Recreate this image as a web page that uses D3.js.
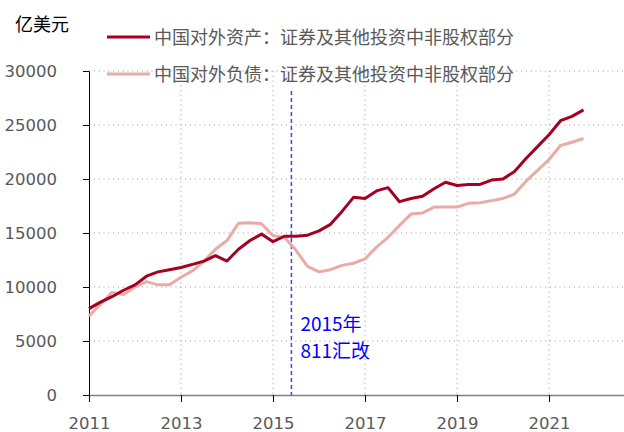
<!DOCTYPE html>
<html>
<head>
<meta charset="utf-8">
<script src="https://cdn.jsdelivr.net/npm/d3@7"></script>
<style>
  body { margin: 0; background: #fff; }
  text { font-family: "DejaVu Sans", "Noto Sans CJK SC", sans-serif; }
  .cjk { font-family: "Noto Sans CJK SC", "DejaVu Sans", sans-serif; }
</style>
</head>
<body>
<svg id="chart" width="624" height="432"></svg>
<script>
// quarterly, 2011Q1 .. 2021Q4 (亿美元)
var quarters = d3.range(0, 44).map(function(i) { return 2011 + i / 4; });
var assets = [
  8000, 8600, 9100, 9700, 10200, 11000, 11400, 11600,
  11800, 12100, 12400, 12900, 12400, 13500, 14300, 14900,
  14200, 14700, 14700, 14800, 15200, 15800, 17000, 18300,
  18200, 18900, 19200, 17900, 18200, 18400, 19100, 19700,
  19400, 19500, 19500, 19900, 20000, 20700, 21900, 23000,
  24100, 25400, 25800, 26400];
var liabilities = [
  7300, 8400, 9500, 9300, 10000, 10500, 10200, 10200,
  10900, 11500, 12400, 13500, 14300, 15900, 15950, 15850,
  14750, 14600, 13400, 11900, 11400, 11600, 12000, 12200,
  12600, 13700, 14600, 15700, 16750, 16850, 17400, 17400,
  17400, 17750, 17800, 18000, 18200, 18600, 19800, 20800,
  21800, 23100, 23400, 23750];
var seriesNames = ["中国对外资产：证券及其他投资中非股权部分", "中国对外负债：证券及其他投资中非股权部分"];
var seriesColors = ["#a50021", "#e8aba7"];
var yTicks = [0, 5000, 10000, 15000, 20000, 25000, 30000];
var xTicks = [2011, 2013, 2015, 2017, 2019, 2021];
var reformDate = 2015.4;
var reformLabel = ["2015年", "811汇改"];

var margin = {top: 71, right: 0, bottom: 37, left: 89};
var width = 624 - margin.left - margin.right;
var height = 432 - margin.top - margin.bottom;

var svg = d3.select("#chart");
var g = svg.append("g")
    .attr("transform", `translate(${margin.left}, ${margin.top})`);

var x = d3.scaleLinear().domain([2011, 2022.63]).range([0, width]);
var y = d3.scaleLinear().domain([0, 30000]).range([height, 0]);

// grid
g.append("g").selectAll("line")
    .data(yTicks.slice(1))
    .enter().append("line")
      .attr("x1", 0).attr("x2", width)
      .attr("y1", function(d) { return y(d); })
      .attr("y2", function(d) { return y(d); })
      .attr("stroke", "#a6a6a6")
      .attr("stroke-dasharray", "1.2,3.6");
g.append("g").selectAll("line")
    .data(xTicks.slice(1))
    .enter().append("line")
      .attr("x1", function(d) { return x(d); })
      .attr("x2", function(d) { return x(d); })
      .attr("y1", 0).attr("y2", height)
      .attr("stroke", "#a6a6a6")
      .attr("stroke-dasharray", "1.2,3.6");

// axes
var yAxis = g.append("g")
    .call(d3.axisLeft(y).tickValues(yTicks).tickSize(6).tickSizeOuter(0).tickFormat(d3.format("d")));
yAxis.select(".domain").attr("stroke", "#000");
yAxis.selectAll("text")
    .attr("x", -32)
    .attr("font-size", "16.5px")
    .attr("fill", "#595959");

var xAxis = g.append("g")
    .attr("transform", `translate(0, ${height})`)
    .call(d3.axisBottom(x).tickValues(xTicks).tickSize(7).tickSizeOuter(0).tickFormat(d3.format("d")));
xAxis.select(".domain").attr("stroke", "#808080").attr("stroke-width", 1.5);
xAxis.selectAll("text")
    .attr("y", 22)
    .attr("font-size", "16.5px")
    .attr("fill", "#595959");

// reform marker
g.append("line")
    .attr("x1", x(reformDate)).attr("x2", x(reformDate))
    .attr("y1", 20).attr("y2", height)
    .attr("stroke", "#4040ff")
    .attr("stroke-width", 1.5)
    .attr("stroke-dasharray", "4,3");
g.append("text")
    .attr("class", "cjk")
    .attr("x", x(reformDate) + 9)
    .attr("y", 260)
    .attr("font-size", "19px")
    .attr("fill", "#0000ff")
    .selectAll("tspan")
    .data(reformLabel)
    .enter().append("tspan")
      .attr("x", x(reformDate) + 9)
      .attr("dy", function(d, i) { return i ? 27 : 0; })
      .text(function(d) { return d; });

// lines
var line = d3.line()
    .x(function(d, i) { return x(quarters[i]); })
    .y(function(d) { return y(d); });
[liabilities, assets].forEach(function(s, k) {
  g.append("path")
      .datum(s)
      .attr("fill", "none")
      .attr("stroke", seriesColors[1 - k])
      .attr("stroke-width", 3)
      .attr("stroke-linejoin", "round")
      .attr("d", line);
});

// unit
svg.append("text")
    .attr("class", "cjk")
    .attr("x", 15).attr("y", 31)
    .attr("font-size", "18px")
    .attr("fill", "#000")
    .text("亿美元");

// legend
var legend = svg.append("g").selectAll("g")
    .data(seriesNames)
    .enter().append("g")
      .attr("transform", function(d, i) { return `translate(107, ${37 + i * 37})`; });
legend.append("line")
    .attr("x1", 0).attr("x2", 43)
    .attr("stroke", function(d, i) { return seriesColors[i]; })
    .attr("stroke-width", 3);
legend.append("text")
    .attr("class", "cjk")
    .attr("x", 47).attr("y", 7)
    .attr("font-size", "18px")
    .attr("fill", "#595959")
    .text(function(d) { return d; });
</script>
</body>
</html>
